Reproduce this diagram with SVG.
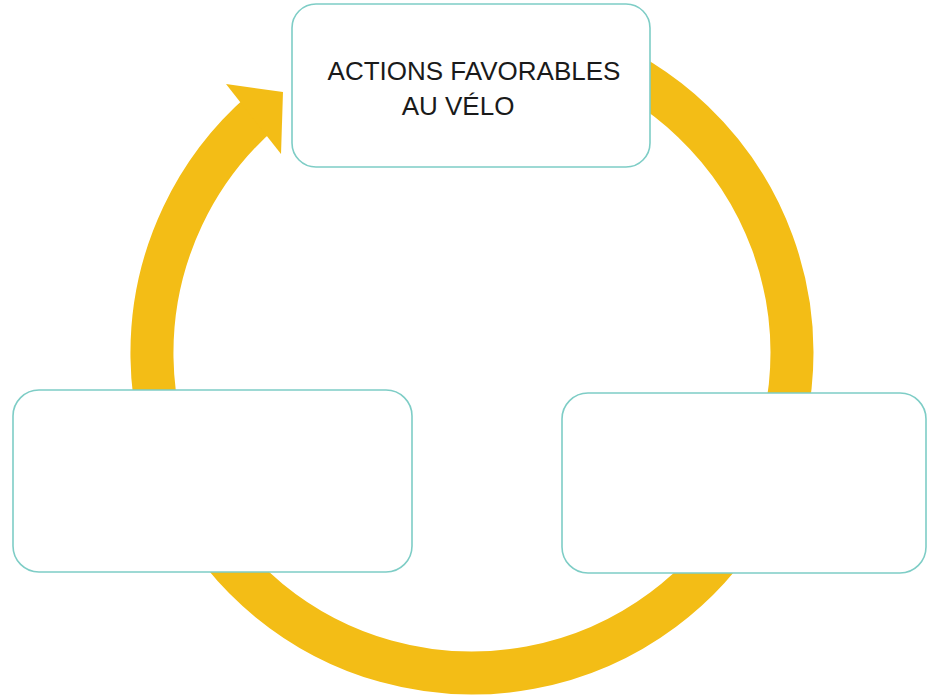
<svg xmlns="http://www.w3.org/2000/svg" width="927" height="697" viewBox="0 0 927 697">
  <style>
    .box { fill: #ffffff; stroke: #7ecdc6; stroke-width: 1.6; }
    .ring { fill: none; stroke: #F3BD16; stroke-width: 43; }
    .head { fill: #F3BD16; }
    .label { font-family: "Liberation Sans", Arial, sans-serif; font-size: 26px; fill: #1a1a1a; text-anchor: middle; }
  </style>
  <rect width="927" height="697" fill="#ffffff"/>
  <g id="connectors">
    <path class="ring" d="M 581.4 52.3 A 320 320 0 1 1 262 111.5"/>
    <polygon class="head" points="226,84 283,92 281,154"/>
  </g>
  <g id="node-top">
    <rect class="box" x="292" y="4" width="358" height="163" rx="24" ry="24"/>
    <text class="label" x="474" y="80">ACTIONS FAVORABLES</text>
    <text class="label" x="458" y="115">AU VÉLO</text>
  </g>
  <g id="node-left">
    <rect class="box" x="13" y="390" width="399" height="182" rx="26" ry="26"/>
  </g>
  <g id="node-right">
    <rect class="box" x="562" y="393" width="364" height="180" rx="26" ry="26"/>
  </g>
</svg>
